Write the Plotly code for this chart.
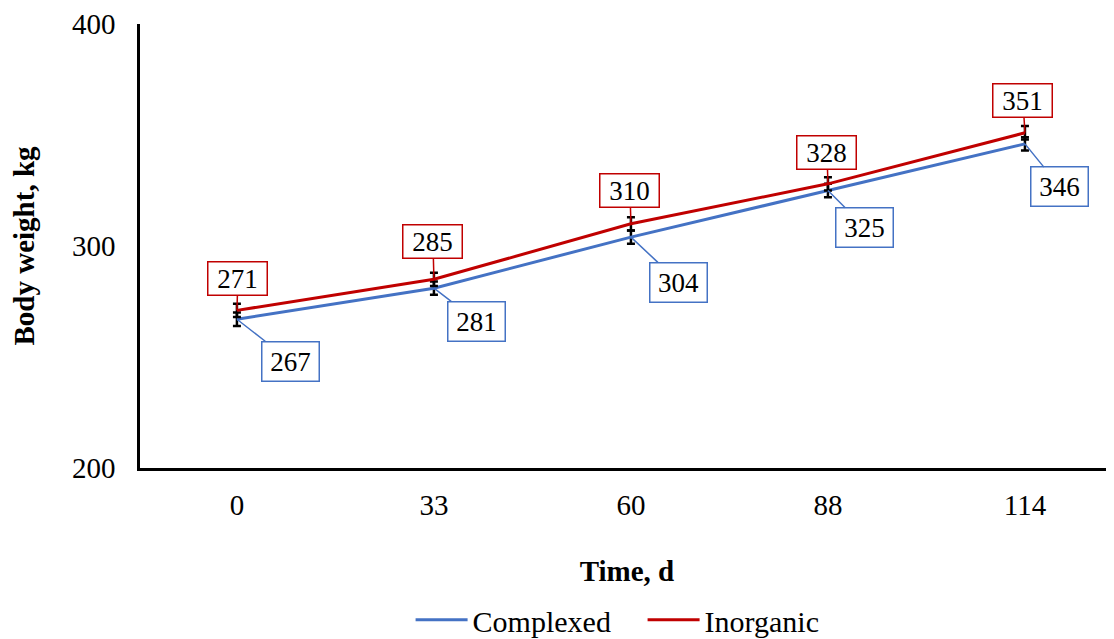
import plotly.graph_objects as go

days = ["0", "33", "60", "88", "114"]
complexed = [267, 281, 304, 325, 346]
inorganic = [271, 285, 310, 328, 351]
complexed_err = [3, 3, 3, 3, 3]
inorganic_err = [3, 3, 3, 3, 3]

# label offsets (pixels) for the callouts
complexed_off = [(54, 42), (43, 33), (48, 45), (37, 37), (35, 43)]
inorganic_off = [(1, -32), (-1, -38), (-1, -33), (-1, -31), (-2, -32)]

BLUE = "#4472C4"
RED = "#C00000"
FONT = "Liberation Serif, Times New Roman, serif"

fig = go.Figure()
fig.add_trace(go.Scatter(
    x=days, y=complexed, name="Complexed", mode="lines",
    line=dict(color=BLUE, width=3),
    error_y=dict(type="data", array=complexed_err, color="black", thickness=2.5, width=4),
))
fig.add_trace(go.Scatter(
    x=days, y=inorganic, name="Inorganic", mode="lines",
    line=dict(color=RED, width=3),
    error_y=dict(type="data", array=inorganic_err, color="black", thickness=2.5, width=4),
))

annotations = []
for i, (v, (ax, ay)) in enumerate(zip(complexed, complexed_off)):
    annotations.append(dict(
        x=i, y=v, xref="x", yref="y", text=str(v), showarrow=True,
        ax=ax, ay=ay, arrowhead=0, arrowwidth=1.5, arrowcolor=BLUE,
        bordercolor=BLUE, borderwidth=1.5, borderpad=2, bgcolor="white",
        width=52, height=34,
        font=dict(family=FONT, size=27, color="black"),
    ))
for i, (v, (ax, ay)) in enumerate(zip(inorganic, inorganic_off)):
    annotations.append(dict(
        x=i, y=v, xref="x", yref="y", text=str(v), showarrow=True,
        ax=ax, ay=ay, arrowhead=0, arrowwidth=1.5, arrowcolor=RED,
        bordercolor=RED, borderwidth=1.5, borderpad=1, bgcolor="white",
        width=56, height=30,
        font=dict(family=FONT, size=27, color="black"),
    ))

fig.update_layout(
    width=1114, height=639,
    margin=dict(l=132, r=8, t=16, b=179, autoexpand=False),
    paper_bgcolor="white", plot_bgcolor="white",
    font=dict(family=FONT, size=29, color="black"),
    showlegend=True,
    legend=dict(orientation="h", x=0.516, xanchor="center", y=-0.342, yanchor="middle",
                font=dict(family=FONT, size=30, color="black"), itemwidth=52,
                entrywidth=165, entrywidthmode="pixels", tracegroupgap=0),
    annotations=annotations,
    xaxis=dict(
        type="category", range=[-0.492, 4.452], automargin=False,
        showline=True, linecolor="black", linewidth=2.5,
        showgrid=False, zeroline=False, ticks="",
        ticklabelstandoff=9,
        tickfont=dict(family=FONT, size=29, color="black"),
        title=dict(text="<b>Time, d</b>", font=dict(family=FONT, size=29, color="black"), standoff=42),
    ),
    yaxis=dict(
        range=[200, 400], tickvals=[200, 300, 400], automargin=False,
        showline=True, linecolor="black", linewidth=2.5,
        showgrid=False, zeroline=False, ticks="",
        ticklabelstandoff=16,
        tickfont=dict(family=FONT, size=29, color="black"),
        title=dict(text="<b>Body weight, kg</b>", font=dict(family=FONT, size=29, color="black"), standoff=33),
    ),
)

fig.write_html("out.html")
